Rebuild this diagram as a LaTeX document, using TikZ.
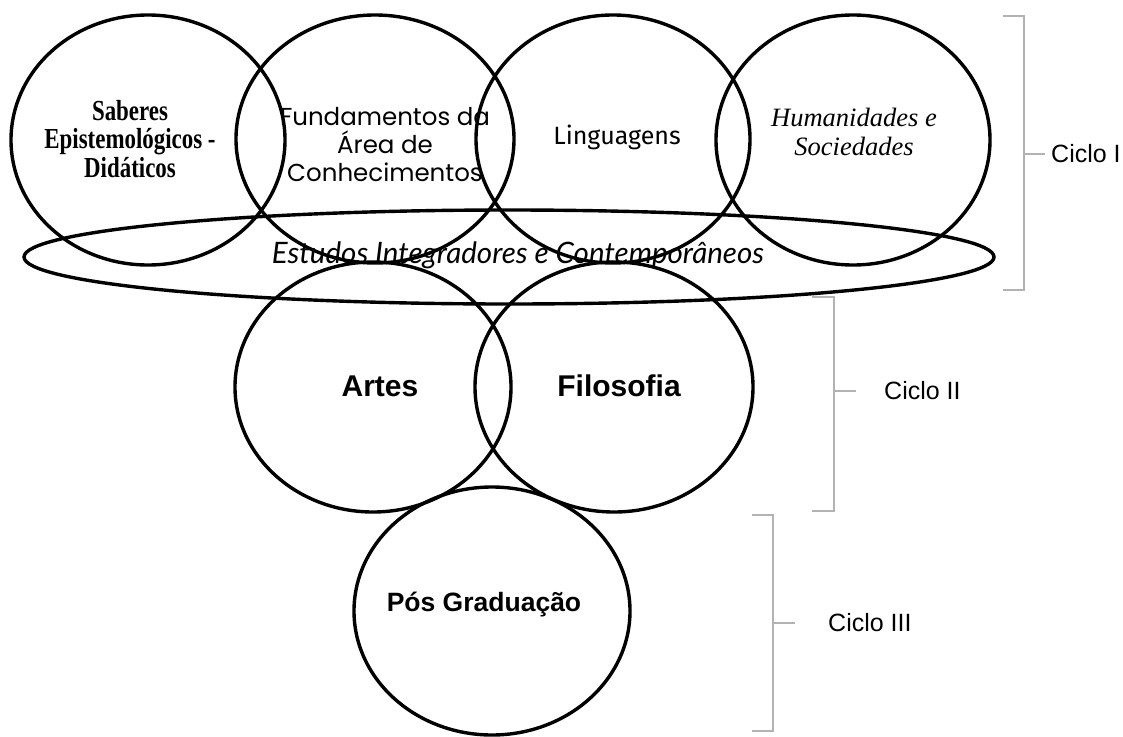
\documentclass[tikz,border=0pt]{standalone}
\usepackage{fontspec}
\setmainfont{Liberation Sans}
\newfontfamily\condserif{Liberation Serif}
\newfontfamily\gothicf{Poppins}
\newfontfamily\comicf{Fira Sans}
\newfontfamily\serifit{Liberation Serif}
\newfontfamily\handf{Lato}
\usetikzlibrary{shapes.geometric}
\tikzset{
  ring/.style args={#1/#2}{draw=black, line width=3.4pt, ellipse, inner sep=0pt, minimum width=#1pt, minimum height=#2pt},
  brk/.style={draw=black!30, line width=1.3pt},
  lbl/.style={inner sep=0pt, align=center, text=black},
  ciclo/.style={inner sep=0pt, anchor=west, font=\fontsize{25}{30}\selectfont}
}
\begin{document}
\begin{tikzpicture}[x=1pt, y=-1pt]
\useasboundingbox (0,0) rectangle (1123,736);
% circles
\node[ring=274/250] (c1) at (148,140) {};
\node[ring=278/248] (c2) at (375,139) {};
\node[ring=274/248] (c3) at (613,139) {};
\node[ring=274/250] (c4) at (853,140) {};
\node[ring=970/94] (est) at (509,257) {};
\node[ring=276/250] (c5) at (373,387) {};
\node[ring=278/250] (c6) at (614,387) {};
\node[ring=276/248] (c7) at (492,611) {};
% texts
\node[lbl, font=\condserif\bfseries\fontsize{29}{27.5}\selectfont] (t1) at (130,143) {\scalebox{0.79}[1]{\begin{tabular}{@{}c@{}}Saberes\\ Epistemológicos -\\ Didáticos\end{tabular}}};
\node[lbl, font=\gothicf\fontsize{24.5}{28}\selectfont] (t2) at (385,145) {Fundamentos da\\Área de\\Conhecimentos};
\node[lbl, font=\comicf\fontsize{25}{28}\selectfont] (t3) at (617,137) {Linguagens};
\node[lbl, font=\serifit\itshape\fontsize{26.5}{29}\selectfont] (t4) at (854,132) {Humanidades e\\Sociedades};
\node[lbl, font=\handf\itshape\fontsize{24}{28}\selectfont] (t5) at (518,255) {\resizebox{492pt}{!}{Estudos Integradores e Contemporâneos}};
\node[lbl, font=\bfseries\fontsize{30}{32}\selectfont] (t6) at (380,386) {Artes};
\node[lbl, font=\bfseries\fontsize{30}{32}\selectfont] (t7) at (619,386) {Filosofia};
\node[lbl, font=\bfseries\fontsize{26.5}{30}\selectfont] (t8) at (484,605) {Pós Graduação};
% brackets
\coordinate (b1t) at (1003,16); \coordinate (b1tr) at (1024,16);
\coordinate (b1b) at (1003,290); \coordinate (b1br) at (1024,290);
\coordinate (b1m) at (1024,154); \coordinate (b1me) at (1045,154);
\draw[brk] (b1t) -- (b1tr) -- (b1br) -- (b1b);
\draw[brk] (b1m) -- (b1me);
\node[ciclo] (l1) at (1051,154) {Ciclo I};
\coordinate (b2t) at (812,297); \coordinate (b2tr) at (834,297);
\coordinate (b2b) at (812,511); \coordinate (b2br) at (834,511);
\coordinate (b2m) at (834,391); \coordinate (b2me) at (856,391);
\draw[brk] (b2t) -- (b2tr) -- (b2br) -- (b2b);
\draw[brk] (b2m) -- (b2me);
\node[ciclo] (l2) at (884,391) {Ciclo II};
\coordinate (b3t) at (752,515); \coordinate (b3tr) at (773,515);
\coordinate (b3b) at (752,731); \coordinate (b3br) at (773,731);
\coordinate (b3m) at (773,623); \coordinate (b3me) at (795,623);
\draw[brk] (b3t) -- (b3tr) -- (b3br) -- (b3b);
\draw[brk] (b3m) -- (b3me);
\node[ciclo] (l3) at (828,623) {Ciclo III};
\end{tikzpicture}
\end{document}
